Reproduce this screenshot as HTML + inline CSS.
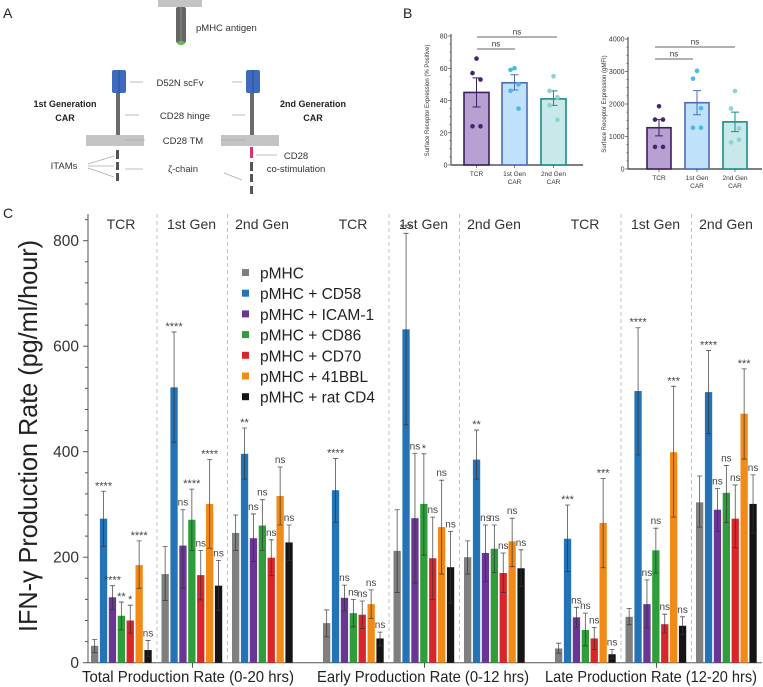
<!DOCTYPE html>
<html><head><meta charset="utf-8">
<style>
html,body{margin:0;padding:0;background:#fff;}
svg{display:block;font-family:"Liberation Sans",sans-serif;}
</style></head>
<body>
<svg id="fig" width="763" height="687" viewBox="0 0 763 687" xmlns="http://www.w3.org/2000/svg">
<g>
<text x="3" y="18" font-size="14" fill="#222">A</text>
<rect x="158" y="0" width="44" height="7" fill="#c4c4c4"/>
<rect x="176" y="7" width="10" height="36" rx="2" fill="#666"/>
<line x1="181" y1="7" x2="181" y2="43" stroke="#999" stroke-width="0.8"/>
<ellipse cx="181" cy="43" rx="4" ry="2" fill="#5cbf4a"/>
<text x="196" y="31" font-size="9.5" fill="#333">pMHC antigen</text>
<rect x="112" y="70" width="14" height="23" rx="2" fill="#3d6cbf"/>
<line x1="119" y1="70" x2="119" y2="93" stroke="#284a8a" stroke-width="0.8"/>
<rect x="246" y="70" width="14" height="23" rx="2" fill="#3d6cbf"/>
<line x1="253" y1="70" x2="253" y2="93" stroke="#284a8a" stroke-width="0.8"/>
<rect x="116" y="93" width="4" height="42" fill="#6b6b6b"/>
<rect x="250" y="93" width="4" height="42" fill="#6b6b6b"/>
<rect x="86" y="135" width="58" height="11" fill="#c4c4c4"/>
<rect x="221" y="135" width="58" height="11" fill="#c4c4c4"/>
<rect x="116" y="150" width="3" height="9" fill="#555"/><rect x="116" y="162" width="3" height="8" fill="#555"/><rect x="116" y="173" width="3" height="8" fill="#555"/>
<rect x="250" y="147" width="3" height="11" fill="#e0306a"/>
<rect x="250" y="162" width="3" height="9" fill="#555"/><rect x="250" y="174" width="3" height="8" fill="#555"/><rect x="250" y="186" width="3" height="8" fill="#555"/>
<g stroke="#aaa" stroke-width="0.8">
<line x1="130" y1="82" x2="143" y2="82"/><line x1="232" y1="82" x2="242" y2="82"/>
<line x1="125" y1="115" x2="139" y2="115"/><line x1="232" y1="115" x2="245" y2="115"/>
<line x1="125" y1="140" x2="145" y2="140"/><line x1="221" y1="140" x2="245" y2="140"/>
<line x1="125" y1="169" x2="143" y2="169"/><line x1="224" y1="173" x2="242" y2="180"/>
<line x1="256" y1="155" x2="277" y2="155"/>
<line x1="88" y1="164" x2="114" y2="156"/><line x1="88" y1="166" x2="114" y2="166"/><line x1="88" y1="168" x2="114" y2="177"/>
</g>
<g font-size="9.5" fill="#333" text-anchor="middle">
<text x="180" y="86">D52N scFv</text>
<text x="185" y="119">CD28 hinge</text>
<text x="183" y="144">CD28 TM</text>
<text x="183" y="172">ζ-chain</text>
<text x="64" y="169">ITAMs</text>
<text x="296" y="159">CD28</text>
<text x="296" y="172">co-stimulation</text>
</g>
<g font-size="9" font-weight="bold" fill="#222" text-anchor="middle">
<text x="65" y="107">1st Generation</text>
<text x="65" y="121">CAR</text>
<text x="313" y="107">2nd Generation</text>
<text x="313" y="121">CAR</text>
</g>
</g>
<text x="403" y="18" font-size="14" fill="#222">B</text>
<text x="3" y="218" font-size="14" fill="#222">C</text>
<g id="panelB"></g>
<g id="panelC"></g>
</svg>
<script>
const groupNames = ['TCR','1st Gen','2nd Gen','TCR','1st Gen','2nd Gen','TCR','1st Gen','2nd Gen'];
const blockLabels = ['Total Production Rate (0-20 hrs)','Early Production Rate (0-12 hrs)','Late Production Rate (12-20 hrs)'];
const seriesNames = ['pMHC','pMHC + CD58','pMHC + ICAM-1','pMHC + CD86','pMHC + CD70','pMHC + 41BBL','pMHC + rat CD4'];
const yTicks = [0,200,400,600,800];
const meanPMHC = [32,168,246,75,212,200,27,87,304];
const hiPMHC   = [44,220,280,100,290,231,37,103,354];
const loPMHC   = [19,118,213,49,133,168,18,72,257];
const meanCD58 = [273,522,396,327,632,385,235,515,513];
const hiCD58   = [325,627,445,387,814,441,299,635,592];
const loCD58   = [220,418,348,266,451,348,173,394,434];
const meanICAM = [124,222,236,123,274,208,86,111,290];
const hiICAM   = [146,290,282,147,397,261,105,157,330];
const loICAM   = [101,141,192,98,151,154,66,66,249];
const meanCD86 = [89,271,260,94,301,216,62,213,322];
const hiCD86   = [115,329,309,120,396,261,94,255,374];
const loCD86   = [62,213,213,68,204,171,32,170,266];
const meanCD70 = [80,166,199,91,198,170,46,73,273];
const hiCD70   = [109,213,233,117,276,208,67,92,337];
const loCD70   = [56,119,165,65,120,133,25,56,218];
const mean41BB = [185,301,316,111,257,230,265,399,472];
const hi41BB   = [231,385,371,138,346,274,349,524,557];
const lo41BB   = [141,217,261,84,168,182,180,276,386];
const meanRat  = [24,146,228,46,181,179,16,70,301];
const hiRat    = [42,194,261,58,249,214,25,87,356];
const loRat    = [11,99,194,32,113,144,8,53,246];
const sigPMHC = ['','','','','','','','',''];
const sigCD58 = ['****','****','**','****','***','**','***','****','****'];
const sigICAM = ['****','ns','ns','ns','ns','ns','ns','ns','ns'];
const sigCD86 = ['**','****','ns','ns','*','ns','ns','ns','ns'];
const sigCD70 = ['*','ns','ns','ns','ns','ns','ns','ns','ns'];
const sig41BB = ['****','****','ns','ns','ns','ns','***','***','***'];
const sigRat  = ['ns','ns','ns','ns','ns','ns','ns','ns','ns'];

const bCats = ['TCR','1st Gen','2nd Gen'];
const bPctMean = [45,51,41];
const bPctLo = [36,46.5,37];
const bPctHi = [54,56,46];
const bPctDots = [[66,57,53,24,24],[60,59,50,46,35],[55,46,42,37,28]];
const bPctTicks = [0,20,40,60,80];
const bMfiMean = [1270,2040,1450];
const bMfiLo = [1020,1670,1150];
const bMfiHi = [1520,2410,1750];
const bMfiDots = [[1930,1520,1520,680,680],[3020,2780,1870,1270,1270],[2400,1860,1250,820,900]];
const bMfiTicks = [0,1000,2000,3000,4000];

const NS='http://www.w3.org/2000/svg';
function mk(tag, attrs, parent){const e=document.createElementNS(NS,tag);for(const k in attrs)e.setAttribute(k,attrs[k]);parent.appendChild(e);return e;}

(function(){
const g=document.getElementById('panelC');
const colors=['#7f7f7f','#2473b6','#6a3695','#2e9e3a','#d8262b','#f28a18','#141414'];
const means=[meanPMHC,meanCD58,meanICAM,meanCD86,meanCD70,mean41BB,meanRat];
const his=[hiPMHC,hiCD58,hiICAM,hiCD86,hiCD70,hi41BB,hiRat];
const los=[loPMHC,loCD58,loICAM,loCD86,loCD70,lo41BB,loRat];
const sigs=[sigPMHC,sigCD58,sigICAM,sigCD86,sigCD70,sig41BB,sigRat];
const x0=88, y0=662.7, ppu=0.5275;
const yS=v=>y0-v*ppu;
const blockX=[91,323,555], subX=[0,70.5,141], step=8.9, bw=7.3;
const gx=i=>blockX[Math.floor(i/3)]+subX[i%3];
const ax=mk('line',{x1:x0,y1:214,x2:x0,y2:y0,stroke:'#555','stroke-width':1},g);


const bx=mk('line',{x1:x0,y1:y0,x2:762,y2:y0,stroke:'#555','stroke-width':1},g);


for(let v=0; v<=840; v+=40){ if(yS(v)<214) break;
  const major=yTicks.includes(v);
  mk('line',{x1:x0-(major?5:3),y1:yS(v),x2:x0,y2:yS(v),stroke:'#555','stroke-width':1},g);}
yTicks.forEach(v=>{const t=mk('text',{x:x0-9,y:yS(v)+5.5,'font-size':15.5,'text-anchor':'end',fill:'#333'},g);t.textContent=v;
  
  });
const yt=mk('text',{x:0,y:0,'font-size':26,'text-anchor':'middle',fill:'#222',textLength:392,lengthAdjust:'spacingAndGlyphs',transform:'translate(37,436) rotate(-90)'},g);
yt.textContent='IFN-γ Production Rate (pg/ml/hour)';


[0,1,2].forEach(b=>{[1,2].forEach(s=>{const x=blockX[b]+subX[s]-4.5;
  const l=mk('line',{x1:x,y1:214,x2:x,y2:y0,stroke:'#bbb','stroke-width':0.9,'stroke-dasharray':'4,3'},g);
  
  });});
groupNames.forEach((n,i)=>{const t=mk('text',{x:gx(i)+30,y:229,'font-size':14,'text-anchor':'middle',fill:'#333'},g);t.textContent=n;
  
  });
const labStart=[82,317,545];
blockLabels.forEach((n,b)=>{const cx=blockX[b]+subX[1]+31;
  mk('line',{x1:cx,y1:y0,x2:cx,y2:y0+5,stroke:'#555'},g);
  const t=mk('text',{x:labStart[b],y:682,'font-size':16,textLength:212,lengthAdjust:'spacingAndGlyphs',fill:'#222'},g);t.textContent=n;
  
  });
for(let s=0;s<7;s++){for(let i=0;i<9;i++){
  const x=gx(i)+s*step, m=means[s][i];
  const r=mk('rect',{x:x,y:yS(m),width:bw,height:y0-yS(m),fill:colors[s]},g);
  
  
  const cx=x+bw/2, yh=yS(his[s][i]), yl=yS(los[s][i]);
  const e=mk('path',{d:`M${cx},${yh}V${yl}M${cx-2.5},${yh}H${cx+2.5}M${cx-2.5},${yl}H${cx+2.5}`,stroke:'#333','stroke-width':0.8,fill:'none',opacity:0.85},g);
  
  
  const sg=sigs[s][i];
  if(sg){const stars=sg!=='ns';
    const t=mk('text',{x:cx,y:yh-(stars?2:4),'font-size':stars?11:10,'text-anchor':'middle',fill:'#444'},g);t.textContent=sg;
    
    }
}}
seriesNames.forEach((n,s)=>{const y=273+s*20.7;
  const r=mk('rect',{x:242,y:y-4,width:7,height:7,fill:colors[s]},g);
  
  
  const t=mk('text',{x:260,y:y+5.5,'font-size':15.5,fill:'#222'},g);t.textContent=n;
  
  });
})();

(function(){
const g=document.getElementById('panelB');
const fills=['#b9a0d2','#bfe1f9','#c7e9ea'], strokes=['#3b1f5e','#4d6cb3','#1b8b8c'], dots=['#4a2370','#4bb8e8','#8fd0d4'];
function chart(cfg){
  const {ax,top,bot,maxV,ticks,barX,bw,mean,lo,hi,pts,title,right,br1,br2}=cfg;
  const yS=v=>bot-(v/maxV)*(bot-top);
  const a=mk('line',{x1:ax,y1:top-2,x2:ax,y2:bot,stroke:'#333','stroke-width':1},g);
  
  
  mk('line',{x1:ax,y1:bot,x2:right,y2:bot,stroke:'#333','stroke-width':1.2},g);
  const minor=(ticks[1]-ticks[0])/4;
  for(let v=0;v<=maxV;v+=minor){mk('line',{x1:ax-(v%(ticks[1]-ticks[0])===0?3:1.5),y1:yS(v),x2:ax,y2:yS(v),stroke:'#333','stroke-width':0.6},g);}
  ticks.forEach(v=>{const t=mk('text',{x:ax-3.5,y:yS(v)+2.5,'font-size':7,'text-anchor':'end',fill:'#333'},g);t.textContent=v;
    
    });
  const tt=mk('text',{x:0,y:0,'font-size':6,'text-anchor':'middle',fill:'#333',transform:`translate(${ax-22},${(top+bot)/2}) rotate(-90)`},g);tt.textContent=title;
  
  
  for(let i=0;i<3;i++){
    const r=mk('rect',{x:barX[i],y:yS(mean[i]),width:bw,height:bot-yS(mean[i]),fill:fills[i],stroke:strokes[i],'stroke-width':1.6},g);
    
    
    const cx=barX[i]+bw/2;
    mk('path',{d:`M${cx},${yS(hi[i])}V${yS(lo[i])}M${cx-4},${yS(hi[i])}H${cx+4}M${cx-4},${yS(lo[i])}H${cx+4}`,stroke:strokes[i],'stroke-width':1,fill:'none'},g);
    pts[i].forEach((v,j)=>{const off=[0,-4,4,-4,4][j];
      const c=mk('circle',{cx:cx+off,cy:yS(v),r:2.3,fill:dots[i]},g);
      
      });
    mk('line',{x1:cx,y1:bot,x2:cx,y2:bot+3,stroke:'#333','stroke-width':0.6},g);
    const t=mk('text',{x:cx,y:bot+11,'font-size':6.5,'text-anchor':'middle',fill:'#333'},g);t.textContent=bCats[i];
    
    
    if(i>0){const t2=mk('text',{x:cx,y:bot+19,'font-size':6.5,'text-anchor':'middle',fill:'#333'},g);t2.textContent='CAR';}
  }
  [br1,br2].forEach(b=>{mk('line',{x1:b[0],y1:b[2],x2:b[1],y2:b[2],stroke:'#333','stroke-width':0.8},g);
    const t=mk('text',{x:(b[0]+b[1])/2,y:b[2]-2.5,'font-size':8,'text-anchor':'middle',fill:'#333'},g);t.textContent='ns';
    
    });
}
chart({ax:451,top:36,bot:165,maxV:80,ticks:bPctTicks,barX:[464,502,541],bw:25,mean:bPctMean,lo:bPctLo,hi:bPctHi,pts:bPctDots,
  title:'Surface Receptor Expression (% Positive)',right:583,br1:[477,515,49],br2:[477,557,37]});
chart({ax:628,top:39,bot:169,maxV:4000,ticks:bMfiTicks,barX:[647,685,723],bw:24,mean:bMfiMean,lo:bMfiLo,hi:bMfiHi,pts:bMfiDots,
  title:'Surface Receptor Expression (gMFI)',right:762,br1:[655,693,59],br2:[655,735,47]});
})();
</script>
</body></html>
